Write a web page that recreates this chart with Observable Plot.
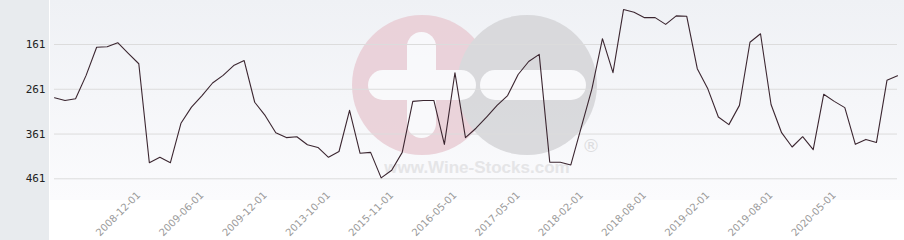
<!DOCTYPE html>
<html>
<head>
<meta charset="utf-8">
<script src="https://cdn.jsdelivr.net/npm/d3@7"></script>
<script src="https://cdn.jsdelivr.net/npm/@observablehq/plot@0.6"></script>
<style>
  html, body { margin: 0; padding: 0; background: #ffffff; }
  #chart { width: 904px; height: 240px; position: relative; overflow: hidden; }
  #chart svg { display: block; }
</style>
</head>
<body>
<div id="chart"></div>
<script>
// ---- data ----
const tickIndex = [8, 14, 20, 26, 32, 38, 44, 50, 56, 62, 68, 74];
const tickLabels = ["2008-12-01", "2009-06-01", "2009-12-01", "2013-10-01", "2015-11-01", "2016-05-01",
                    "2017-05-01", "2018-02-01", "2018-08-01", "2019-02-01", "2019-08-01", "2020-05-01"];
const yTicks = [161, 261, 361, 461];
const ranks = [280, 286, 282, 230, 167, 166, 157, 181, 204, 425, 413, 425, 337, 301, 275, 247, 230, 208, 197, 290,
               320, 358, 369, 367, 385, 391, 413, 400, 308, 404, 402, 459, 442, 402, 288, 286, 286, 384, 224, 369,
               348, 323, 297, 275, 228, 199, 183, 424, 424, 430, 345, 260, 148, 224, 83, 89, 101, 101, 116, 97,
               98, 215, 260, 323, 340, 297, 156, 137, 295, 358, 390, 367, 396, 272, 288, 302, 384, 373, 380, 241, 231];

const rows = ranks.map((v, i) => ({i, v}));

const W = 904, H = 240;
const chart = Plot.plot({
  width: W,
  height: H,
  marginLeft: 54,
  marginRight: 7,
  marginTop: 0,
  marginBottom: 54,
  style: {background: "transparent", overflow: "visible"},
  x: {type: "linear", domain: [0, ranks.length - 1], axis: null, label: null},
  y: {domain: [62.7, 478.2], reverse: true, axis: null, label: null},
  marks: [
    Plot.ruleY(yTicks, {stroke: "#dcdcdc", strokeWidth: 1}),
    Plot.axisY(yTicks, {
      anchor: "left", tickSize: 0, tickPadding: 9, label: null,
      fontFamily: "DejaVu Sans Mono", fontSize: 11, color: "#222"
    }),
    Plot.axisX(tickIndex, {
      anchor: "bottom", tickSize: 0, tickPadding: 7, tickRotate: -45, label: null,
      tickFormat: d => tickLabels[tickIndex.indexOf(d)],
      fontFamily: "DejaVu Sans", fontSize: 10, color: "#9a9a9a"
    }),
    Plot.line(rows, {x: "i", y: "v", stroke: "#3b2630", strokeWidth: 1.1, curve: "linear"})
  ]
});

document.getElementById("chart").appendChild(chart);

// ---- decoration: panel background, left band and watermark ----
const svg = d3.select(chart);
const defs = svg.insert("defs", ":first-child");
const grad = defs.append("linearGradient").attr("id", "bg").attr("x1", 0).attr("y1", 0).attr("x2", 0).attr("y2", 1);
grad.append("stop").attr("offset", "0%").attr("stop-color", "#eff1f5");
grad.append("stop").attr("offset", "100%").attr("stop-color", "#fbfbfd");

const deco = svg.insert("g", "defs + *");
deco.append("rect").attr("x", 50).attr("y", 0).attr("width", W - 50).attr("height", 200).attr("fill", "url(#bg)");
deco.append("rect").attr("x", 0).attr("y", 0).attr("width", 49).attr("height", H).attr("fill", "#e8ebee");

const wm = deco.append("g").attr("opacity", 0.85);
wm.append("circle").attr("cx", 422).attr("cy", 85).attr("r", 70).attr("fill", "#e9cdd5");
wm.append("circle").attr("cx", 527).attr("cy", 85).attr("r", 70).attr("fill", "#d5d5d8");
wm.append("rect").attr("x", 407).attr("y", 32).attr("width", 29).attr("height", 106).attr("rx", 14.5).attr("fill", "#fafafc");
wm.append("rect").attr("x", 368).attr("y", 70).attr("width", 108).attr("height", 30).attr("rx", 15).attr("fill", "#fafafc");
wm.append("rect").attr("x", 480).attr("y", 70).attr("width", 106).attr("height", 30).attr("rx", 15).attr("fill", "#fafafc");
wm.append("text").attr("x", 477).attr("y", 173).attr("text-anchor", "middle")
  .attr("font-family", "Liberation Sans").attr("font-weight", "bold").attr("font-size", 17)
  .attr("fill", "#e2e2e4").text("www.Wine-Stocks.com");
wm.append("text").attr("x", 591).attr("y", 152).attr("text-anchor", "middle")
  .attr("font-family", "DejaVu Sans").attr("font-size", 18)
  .attr("fill", "#d8d8da").text("®");
</script>
</body>
</html>
